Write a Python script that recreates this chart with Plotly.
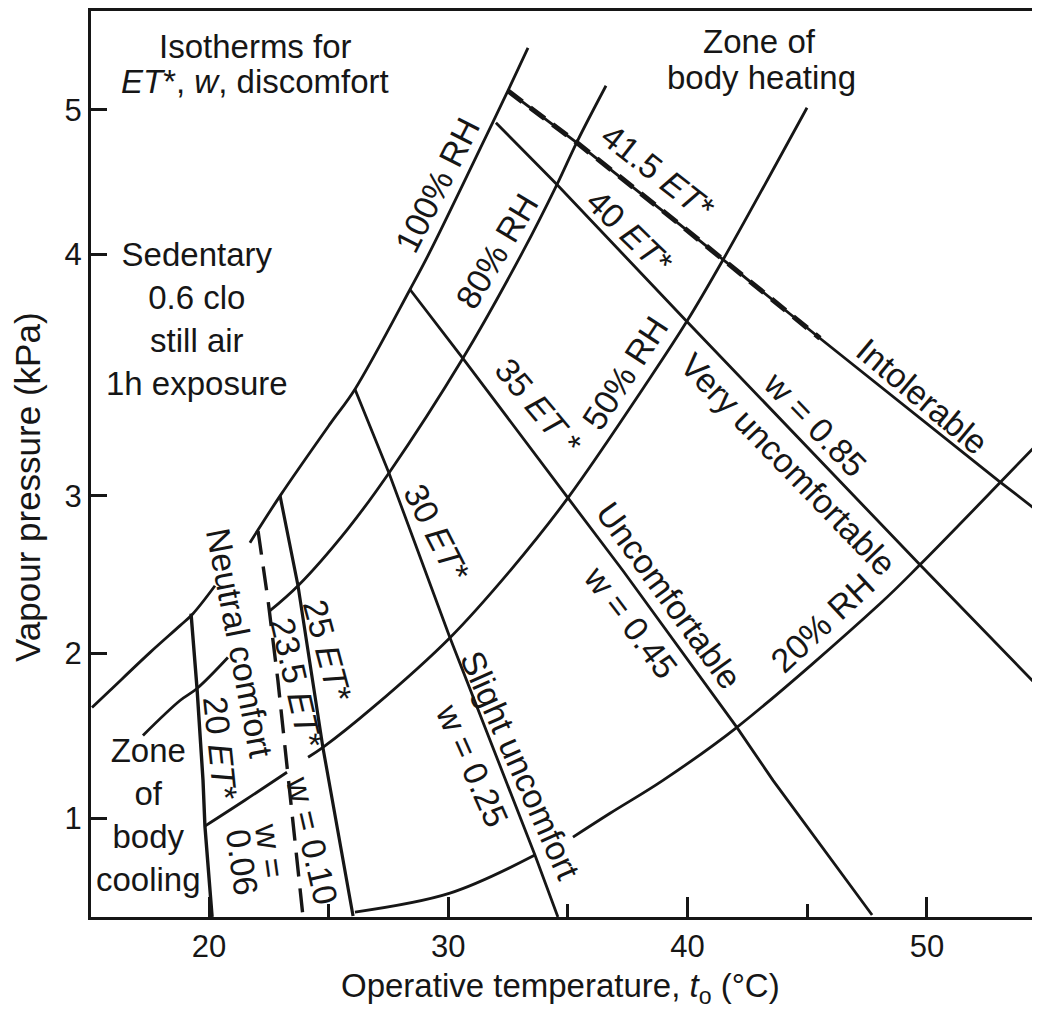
import numpy as np
import plotly.graph_objects as go

# ---------------- axis data ----------------
X_TICKS = [20, 30, 40, 50]
X_TICK_TEXT = ["20", "30", "40", "50"]
X_MINOR = [25, 35, 45]
Y_TICK_KPA = [1, 2, 3, 4, 5]
Y_TICK_TEXT = ["1", "2", "3", "4", "5"]

# the printed vapour-pressure scale is not uniform: kPa -> drawn position
SCALE_KPA = [0, 1, 2, 3, 4, 5, 6]
SCALE_POS = [0, 1, 2, 2.958, 4.424, 5.303, 6.182]

# ---------------- series (t in degC, p in kPa) ----------------
RH100_LOW_T = [15.11, 15.86, 17.53, 18.79, 19.33, 20.25]
RH100_LOW_P = [1.673, 1.776, 2.006, 2.177, 2.253, 2.430]
RH100_T = [21.71, 22.97, 25.06, 26.10, 28.40, 29.24, 31.87, 32.49, 33.33]
RH100_P = [2.703, 3.000, 3.298, 3.442, 3.855, 4.021, 4.917, 5.131, 5.428]

RH80_LOW_T = [17.24, 18.79, 19.50, 20.79]
RH80_LOW_P = [1.503, 1.715, 1.788, 1.976]
RH80_T = [22.55, 23.72, 25.77, 27.52, 30.61, 33.12, 34.54, 35.38, 36.59]
RH80_P = [2.272, 2.430, 2.785, 3.095, 3.570, 4.021, 4.483, 4.779, 5.166]

RH50_LOW_T = [19.83, 21.50, 23.26]
RH50_LOW_P = [0.952, 1.109, 1.279]
RH50_T = [24.14, 24.76, 26.85, 30.07, 32.58, 35.00, 38.43, 39.97, 41.44, 44.99]
RH50_P = [1.370, 1.430, 1.673, 2.101, 2.525, 2.987, 3.488, 3.723, 3.971, 5.014]

RH20_LOW_T = [26.10, 30.07, 33.62]
RH20_LOW_P = [0.430, 0.545, 0.776]
RH20_T = [35.21, 36.76, 38.97, 42.06, 48.04, 49.71, 53.05, 54.73]
RH20_P = [0.885, 1.030, 1.230, 1.552, 2.316, 2.563, 3.054, 3.227]

ET20_T = [19.25, 19.50, 19.75, 19.83, 20.13]
ET20_P = [2.253, 1.788, 1.230, 0.952, 0.400]
ET235_T = [22.05, 22.47, 22.88, 23.26, 23.59, 23.93]
ET235_P = [2.778, 2.335, 1.836, 1.321, 0.867, 0.400]
ET25_T = [22.97, 23.72, 24.76, 26.02]
ET25_P = [3.000, 2.430, 1.430, 0.406]
ET30_T = [26.10, 27.52, 30.07, 31.74, 33.62, 34.58]
ET30_P = [3.442, 3.095, 2.101, 1.473, 0.776, 0.400]
ET35_T = [28.40, 30.61, 35.00, 37.30, 42.06, 43.57, 47.71]
ET35_P = [3.855, 3.570, 2.987, 2.525, 1.552, 1.230, 0.412]
ET40_T = [31.99, 34.54, 39.89, 49.71, 54.73]
ET40_P = [4.910, 4.483, 3.731, 2.563, 1.788]
ET415_T = [32.49, 35.38, 39.68, 45.53, 53.05, 54.73]
ET415_P = [5.131, 4.772, 4.207, 3.653, 3.058, 2.892]

# ---------------- styles ----------------
INK = "#161616"
FONT = "Liberation Sans, Arial, Helvetica, sans-serif"
# the page body has an 8px margin; the figure is sized so the plot area
# lands at page pixels x 91..1040, y 9..917
PAGE_OFF = 8
W, H = 1040 - PAGE_OFF, 1017 - PAGE_OFF
L, R, T, B = 91 - PAGE_OFF, 0, 9 - PAGE_OFF, 100
PLOT_X0, PLOT_X1, PLOT_Y0, PLOT_Y1 = 91, 1040, 9, 917   # page pixels
X_RANGE = [15.069, 54.727]
Y_RANGE = [0.4, 5.903]


def ypos(p):
    return np.interp(np.asarray(p, dtype=float), SCALE_KPA, SCALE_POS)


fig = go.Figure()


def add_line(tt, pp, width=2.8, dash="solid", shape="linear"):
    fig.add_trace(go.Scatter(
        x=tt, y=ypos(pp), mode="lines",
        line=dict(color=INK, width=width, dash=dash, shape=shape, smoothing=1.0),
        showlegend=False, hoverinfo="skip"))


for tt, pp in [(RH100_LOW_T, RH100_LOW_P), (RH100_T, RH100_P),
               (RH80_LOW_T, RH80_LOW_P), (RH80_T, RH80_P),
               (RH50_LOW_T, RH50_LOW_P), (RH50_T, RH50_P),
               (RH20_LOW_T, RH20_LOW_P), (RH20_T, RH20_P)]:
    add_line(tt, pp, width=2.8, shape="spline")

add_line(ET20_T, ET20_P, width=3.4)
add_line(ET235_T, ET235_P, width=3.4, dash="24px,12px")
add_line(ET25_T, ET25_P, width=3.2)
add_line(ET30_T, ET30_P, width=2.8)
add_line(ET35_T, ET35_P, width=2.8)
add_line(ET40_T, ET40_P, width=2.8)
add_line(ET415_T, ET415_P, width=2.8)
add_line(ET415_T[:4], ET415_P[:4], width=5, dash="18px,10px")


def px2paper(px, py):
    return ((px - PLOT_X0) / (PLOT_X1 - PLOT_X0),
            (PLOT_Y1 - py) / (PLOT_Y1 - PLOT_Y0))


def label(px, py, text, angle=0, size=33):
    xp, yp = px2paper(px, py)
    fig.add_annotation(x=xp, y=yp, xref="paper", yref="paper", text=text,
                       showarrow=False, textangle=angle,
                       xanchor="center", yanchor="middle",
                       font=dict(family=FONT, size=size, color=INK))


ET = "<i>ET</i>*"
label(255, 45, "Isotherms for")
label(255, 80, f"{ET}, <i>w</i>, discomfort")
label(197, 318, "Sedentary<br>0.6 clo<br>still air<br>1h exposure")
label(759, 40, "Zone of")
label(761, 76, "body heating")
label(148, 815, "Zone<br>of<br>body<br>cooling")

label(437, 183, "100% RH", -63, 34)
label(497, 250, "80% RH", -59, 34)
label(625, 372, "50% RH", -57, 34)
label(822, 622, "20% RH", -43, 34)
label(658, 170, "41.5 " + ET, 38, 34)
label(630, 230, "40 " + ET, 44, 34)
label(538, 405, "35 <i>ET</i> *", 50, 34)
label(437, 532, "30 " + ET, 63, 34)
label(328, 650, "25 " + ET, 75, 34)
label(297, 682, "23.5 " + ET, 77, 34)
label(240, 642, "Neutral comfort", 79, 34)
label(220, 748, "20 " + ET, 84, 34)
label(270, 850, "w =", 82, 34)
label(242, 862, "0.06", 82, 34)
label(312, 840, "w = 0.10", 77, 34)
label(472, 765, "w = 0.25", 66, 34)
label(520, 765, "Slight uncomfort", 66, 34)
label(631, 621, "w = 0.45", 53, 34)
label(669, 594, "Uncomfortable", 54, 34)
label(788, 463, "Very uncomfortable", 46, 34)
label(815, 423, "w = 0.85", 46, 34)
label(922, 395, "Intolerable", 40, 34)

# axis titles
label(560, 988, "Operative temperature, <i>t</i><sub>o</sub> (°C)", 0, 33)
label(28, 486, "Vapour pressure (kPa)", -90, 35)

fig.update_layout(
    width=W, height=H,
    margin=dict(l=L, r=R, t=T, b=B),
    paper_bgcolor="white", plot_bgcolor="white",
    xaxis=dict(range=X_RANGE, showgrid=False, zeroline=False,
               showline=True, linecolor=INK, linewidth=3, mirror=True,
               ticks="inside", ticklen=20, tickwidth=2.6, tickcolor=INK,
               tickvals=X_TICKS, ticktext=X_TICK_TEXT,
               tickfont=dict(family=FONT, size=31, color=INK),
               minor=dict(tickvals=X_MINOR, ticks="inside", ticklen=13,
                          tickwidth=2.6, tickcolor=INK, showgrid=False)),
    yaxis=dict(range=Y_RANGE, showgrid=False, zeroline=False,
               showline=True, linecolor=INK, linewidth=3, mirror=False,
               ticks="inside", ticklen=16, tickwidth=2.6, tickcolor=INK,
               tickvals=list(ypos(Y_TICK_KPA)), ticktext=Y_TICK_TEXT,
               tickfont=dict(family=FONT, size=31, color=INK)),
)

fig.write_html("out.html")
